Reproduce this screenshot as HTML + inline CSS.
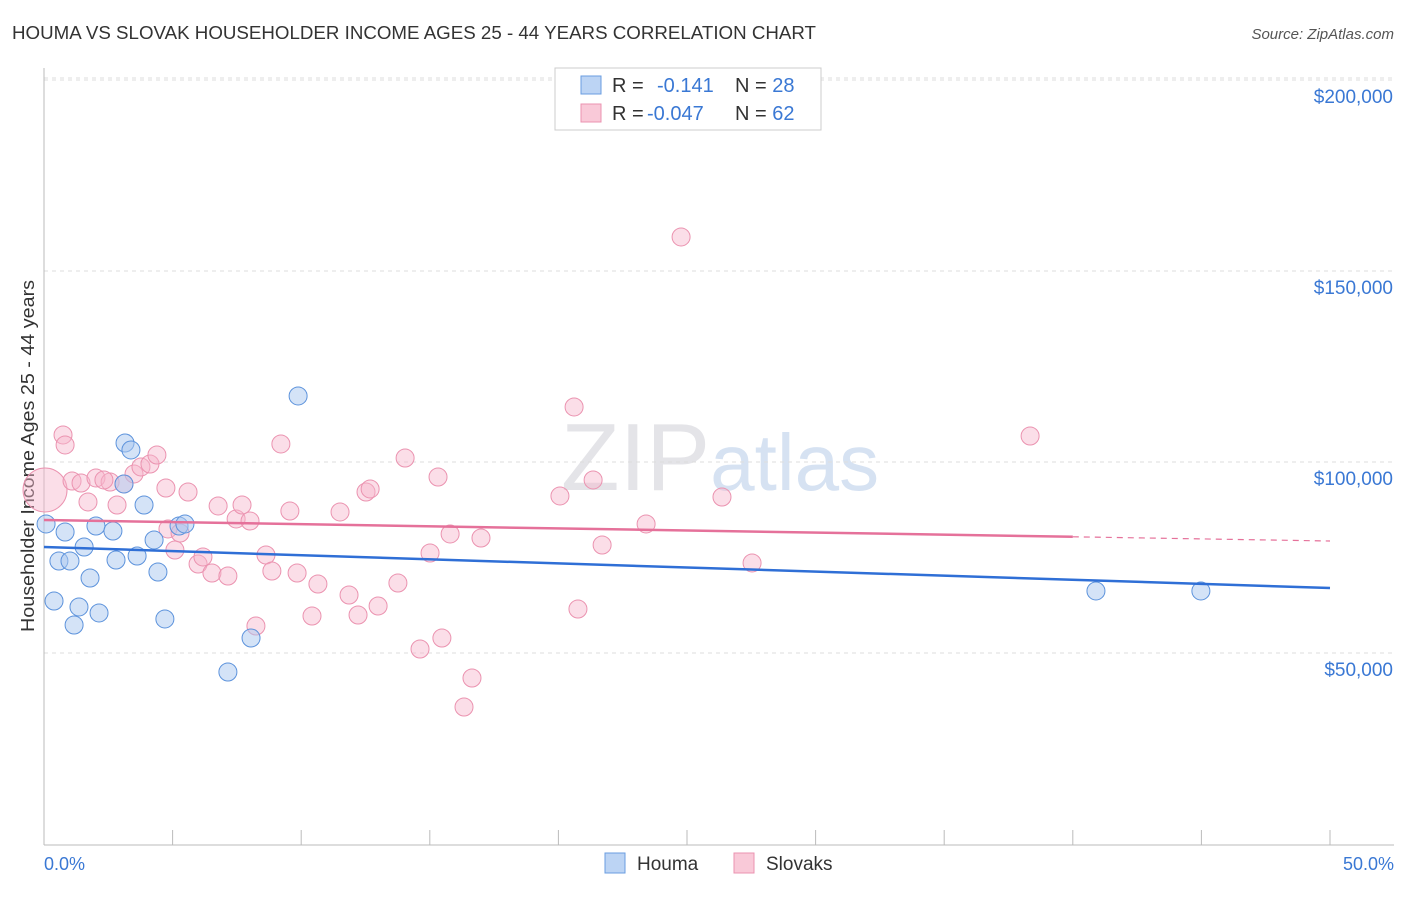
<!DOCTYPE html>
<html><head><meta charset="utf-8"><style>
body{margin:0;background:#fff;font-family:"Liberation Sans",sans-serif;}
svg text{font-family:"Liberation Sans",sans-serif;}
</style></head><body>
<svg id="chart" width="1406" height="892">
<text x="12" y="39" font-size="18" fill="#333" textLength="804" lengthAdjust="spacingAndGlyphs">HOUMA VS SLOVAK HOUSEHOLDER INCOME AGES 25 - 44 YEARS CORRELATION CHART</text>
<text x="1394" y="39" font-size="15" fill="#555" font-style="italic" text-anchor="end">Source: ZipAtlas.com</text>
<text x="720" y="490" font-size="96" fill="#e4e4e8" text-anchor="middle" font-family="Liberation Serif">ZIP<tspan fill="#d6e2f2" font-family="Liberation Sans" font-size="80">atlas</tspan></text>
<g id="grid"></g>
<line x1="44" y1="68" x2="44" y2="845" stroke="#bbb"/>
<line x1="44" y1="845" x2="1394" y2="845" stroke="#bbb"/>
<text transform="translate(34,456) rotate(-90)" font-size="18" fill="#333" text-anchor="middle" textLength="352" lengthAdjust="spacingAndGlyphs">Householder Income Ages 25 - 44 years</text>
<text x="44" y="870" font-size="18" fill="#3a78d4">0.0%</text>
<text x="1394" y="870" font-size="18" fill="#3a78d4" text-anchor="end">50.0%</text>
<g id="points"></g>
<g id="trends"></g>
<g>
<rect x="555" y="68" width="266" height="62" fill="#fff" stroke="#ccc"/>
<rect x="581" y="76" width="20" height="18" fill="#bcd4f4" stroke="#6a9de0"/>
<rect x="581" y="104" width="20" height="18" fill="#f9c9d8" stroke="#eb93b0"/>
<text x="612" y="92" font-size="20" fill="#333">R = <tspan fill="#3a78d4" x="657">-0.141</tspan><tspan x="735">N = </tspan><tspan fill="#3a78d4">28</tspan></text>
<text x="612" y="120" font-size="20" fill="#333">R = <tspan fill="#3a78d4" x="647">-0.047</tspan><tspan x="735">N = </tspan><tspan fill="#3a78d4">62</tspan></text>
</g>
<g><rect x="605" y="853" width="20" height="20" fill="#bcd4f4" stroke="#6a9de0"/><text x="637" y="870" font-size="19" fill="#333">Houma</text></g>
<g><rect x="734" y="853" width="20" height="20" fill="#f9c9d8" stroke="#eb93b0"/><text x="766" y="870" font-size="19" fill="#333">Slovaks</text></g>
</svg>
<script>
const yTicks=[50000,100000,150000,200000];
const yTickLabels=["$50,000","$100,000","$150,000","$200,000"];
const xTicks=[0,5,10,15,20,25,30,35,40,45,50];
const houmaX=[0.08,0.82,0.58,1.01,1.56,2.02,1.79,0.39,1.36,1.17,2.14,3.15,3.38,3.11,3.89,2.68,2.80,3.62,4.28,4.43,4.70,5.25,5.48,7.15,8.05,9.88,40.90,44.98];
const houmaY=[83780,81680,74090,74090,77750,83250,69640,63620,62050,57330,60480,104980,103150,94250,88750,81940,74350,75400,79590,71210,58910,83250,83780,45030,53930,117290,66240,66240];
const slovakX=[0.04,0.74,0.82,1.09,1.44,1.71,2.02,2.57,2.33,2.84,3.11,3.50,3.77,4.12,4.39,4.74,4.82,5.29,5.09,5.60,5.99,6.18,6.53,6.77,7.15,7.47,7.70,8.01,8.24,8.63,8.86,9.21,9.56,9.84,10.42,10.65,11.51,11.86,12.21,12.52,12.68,12.99,13.76,14.04,14.62,15.01,15.32,15.47,15.79,16.33,16.64,16.99,20.06,20.61,20.76,21.35,21.70,23.41,24.77,26.36,27.53,38.34];
const slovakY=[92680,107080,104460,95030,94510,89540,95820,94770,95300,88750,94250,96870,98700,99480,101840,93200,82470,81420,76970,92150,73300,75140,70950,88490,70160,85090,88750,84560,57070,75660,71470,104720,87180,70950,59690,68070,86920,65190,59950,92150,92940,62310,68330,101050,51050,76180,96080,53930,81160,35870,43460,80110,91110,114410,61520,95300,78280,83780,158910,90840,73570,106810];
const houmaTrend=[77750,67020];
const slovakTrend=[84820,79320];
const slovakSolidEnd=40;
const NS='http://www.w3.org/2000/svg';
const X=v=>44+v*(1330-44)/50;
const Y=v=>844-v*191/50000;
function mk(t,a,p){const e=document.createElementNS(NS,t);for(const k in a)e.setAttribute(k,a[k]);p.appendChild(e);return e;}
const grid=document.getElementById('grid');
yTicks.forEach((t,i)=>{
 const l=mk('line',{x1:44,x2:1394,y1:Y(t),y2:Y(t),stroke:'#ddd','stroke-dasharray':'4,4'},grid);
 
 
 const tx=mk('text',{x:1393,y:Y(t)+23,'font-size':19,fill:'#3a78d4','text-anchor':'end'},grid);
 tx.textContent=yTickLabels[i];
 
 
});
mk('line',{x1:44,x2:1394,y1:78,y2:78,stroke:'#ddd','stroke-dasharray':'4,4'},grid);
xTicks.forEach(t=>{
 const l=mk('line',{x1:X(t),x2:X(t),y1:830,y2:845,stroke:'#bbb'},grid);
 
 
});
const pts=document.getElementById('points');
slovakX.forEach((x,i)=>{
 const c=mk('circle',{cx:X(x),cy:Y(slovakY[i]),r:i===0?22:9,fill:'#f6b6cb','fill-opacity':0.45,stroke:'#eb93b0','stroke-width':1},pts);
 
 
});
houmaX.forEach((x,i)=>{
 const c=mk('circle',{cx:X(x),cy:Y(houmaY[i]),r:9,fill:'#a9c8f0','fill-opacity':0.5,stroke:'#5d93dc','stroke-width':1},pts);
 
 
});
const tr=document.getElementById('trends');
const hb=mk('line',{x1:X(0),y1:Y(houmaTrend[0]),x2:X(50),y2:Y(houmaTrend[1]),stroke:'#2f6fd6','stroke-width':2.5},tr);


const sAt=x=>slovakTrend[0]+(slovakTrend[1]-slovakTrend[0])*x/50;
const ps=mk('line',{x1:X(0),y1:Y(sAt(0)),x2:X(slovakSolidEnd),y2:Y(sAt(slovakSolidEnd)),stroke:'#e5719a','stroke-width':2.5},tr);


const pd=mk('line',{x1:X(slovakSolidEnd),y1:Y(sAt(slovakSolidEnd)),x2:X(50),y2:Y(sAt(50)),stroke:'#e5719a','stroke-width':1.2,'stroke-dasharray':'6,5'},tr);


</script>
</body></html>
